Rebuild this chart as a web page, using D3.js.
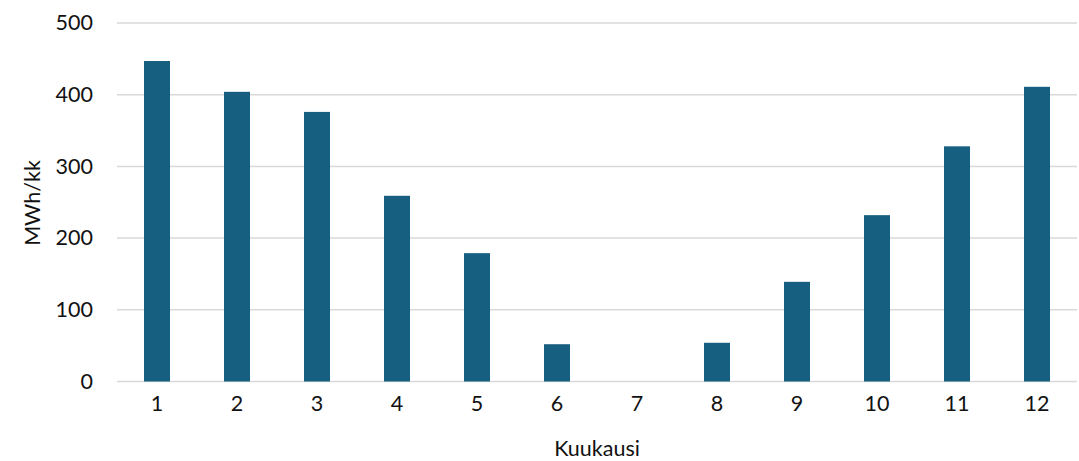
<!DOCTYPE html>
<html>
<head>
<meta charset="utf-8">
<script src="https://cdn.jsdelivr.net/npm/d3@7"></script>
<style>
  html, body { margin: 0; padding: 0; background: #ffffff; }
  svg { display: block; font-family: Lato, "Open Sans", sans-serif; }
</style>
</head>
<body>
<svg id="chart" width="1079" height="461"></svg>
<script>
// Monthly energy (MWh per month)
const months = ["1", "2", "3", "4", "5", "6", "7", "8", "9", "10", "11", "12"];
const energy = [447, 404, 376, 259, 179, 52, 0, 54, 139, 232, 328, 411];
const yTicks = [0, 100, 200, 300, 400, 500];

const fontSize = 21.5;
const textColor = "#111111";

const svg = d3.select("#chart");
const margin = { top: 23, right: 2, bottom: 79.5, left: 117 };
const width = 1079 - margin.left - margin.right;
const height = 461 - margin.top - margin.bottom;

const g = svg.append("g").attr("transform", `translate(${margin.left},${margin.top})`);

const x = d3.scaleBand().domain(months).range([0, width]).paddingInner(0.675).paddingOuter(0.3375);
const y = d3.scaleLinear().domain([0, 500]).range([height, 0]);

// Horizontal gridlines
g.append("g")
  .selectAll("line")
  .data(yTicks)
  .join("line")
  .attr("x1", 0)
  .attr("x2", width)
  .attr("y1", d => y(d))
  .attr("y2", d => y(d))
  .attr("stroke", "#d9d9d9")
  .attr("stroke-width", 1.5);

// Bars
g.append("g")
  .selectAll("rect")
  .data(months.map((m, i) => ({ m, v: energy[i] })))
  .join("rect")
  .attr("x", d => x(d.m))
  .attr("y", d => y(d.v))
  .attr("width", x.bandwidth())
  .attr("height", d => height - y(d.v))
  .attr("fill", "#175f80");

// Y axis labels
const yAxis = g.append("g")
  .attr("transform", "translate(-24,0)")
  .call(d3.axisLeft(y).tickValues(yTicks).tickSize(0).tickPadding(0));
yAxis.select(".domain").remove();
yAxis.selectAll("text")
  .attr("font-family", "Lato, 'Open Sans', sans-serif")
  .attr("font-size", fontSize)
  .attr("fill", textColor);

// X axis labels
const xAxis = g.append("g")
  .attr("transform", `translate(0,${height + 14})`)
  .call(d3.axisBottom(x).tickSize(0).tickPadding(0));
xAxis.select(".domain").remove();
xAxis.selectAll("text")
  .attr("font-family", "Lato, 'Open Sans', sans-serif")
  .attr("font-size", fontSize)
  .attr("fill", textColor);

// Axis titles
svg.append("text")
  .attr("x", 597)
  .attr("y", 456)
  .attr("text-anchor", "middle")
  .attr("font-size", fontSize)
  .attr("fill", textColor)
  .text("Kuukausi");

svg.append("text")
  .attr("transform", "translate(40,203) rotate(-90)")
  .attr("text-anchor", "middle")
  .attr("font-size", fontSize)
  .attr("fill", textColor)
  .text("MWh/kk");
</script>
</body>
</html>
